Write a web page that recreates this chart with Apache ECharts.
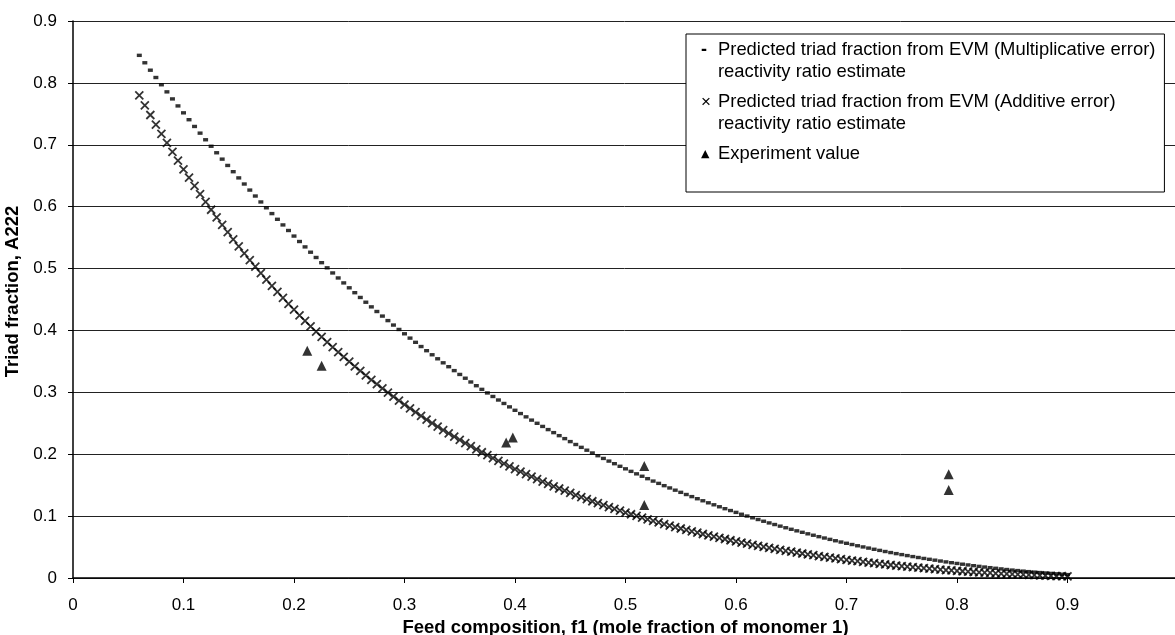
<!DOCTYPE html>
<html>
<head>
<meta charset="utf-8">
<script src="https://cdn.jsdelivr.net/npm/echarts@6.0.0/dist/echarts.min.js"></script>
<style>
  html, body { margin: 0; padding: 0; background: #fff; }
  #chart { width: 1175px; height: 635px; }
</style>
</head>
<body>
<div id="chart"></div>
<script>
// ---- data ----
const seriesNames = [
  'Predicted triad fraction from EVM (Multiplicative error)\nreactivity ratio estimate',
  'Predicted triad fraction from EVM (Additive error)\nreactivity ratio estimate',
  'Experiment value'
];
const legendGlyphs = ['-', '×', '▲'];

const xTickLabels = ['0', '0.1', '0.2', '0.3', '0.4', '0.5', '0.6', '0.7', '0.8', '0.9'];
const yTickLabels = ['0', '0.1', '0.2', '0.3', '0.4', '0.5', '0.6', '0.7', '0.8', '0.9'];

// feed composition f1 for the predicted curves
const feedF1 = [
  0.060,0.065,0.070,0.075,0.080,0.085,0.090,0.095,0.100,0.105,
  0.110,0.115,0.120,0.125,0.130,0.135,0.140,0.145,0.150,0.155,
  0.160,0.165,0.170,0.175,0.180,0.185,0.190,0.195,0.200,0.205,
  0.210,0.215,0.220,0.225,0.230,0.235,0.240,0.245,0.250,0.255,
  0.260,0.265,0.270,0.275,0.280,0.285,0.290,0.295,0.300,0.305,
  0.310,0.315,0.320,0.325,0.330,0.335,0.340,0.345,0.350,0.355,
  0.360,0.365,0.370,0.375,0.380,0.385,0.390,0.395,0.400,0.405,
  0.410,0.415,0.420,0.425,0.430,0.435,0.440,0.445,0.450,0.455,
  0.460,0.465,0.470,0.475,0.480,0.485,0.490,0.495,0.500,0.505,
  0.510,0.515,0.520,0.525,0.530,0.535,0.540,0.545,0.550,0.555,
  0.560,0.565,0.570,0.575,0.580,0.585,0.590,0.595,0.600,0.605,
  0.610,0.615,0.620,0.625,0.630,0.635,0.640,0.645,0.650,0.655,
  0.660,0.665,0.670,0.675,0.680,0.685,0.690,0.695,0.700,0.705,
  0.710,0.715,0.720,0.725,0.730,0.735,0.740,0.745,0.750,0.755,
  0.760,0.765,0.770,0.775,0.780,0.785,0.790,0.795,0.800,0.805,
  0.810,0.815,0.820,0.825,0.830,0.835,0.840,0.845,0.850,0.855,
  0.860,0.865,0.870,0.875,0.880,0.885,0.890,0.895,0.900
];

// Predicted A222, EVM (Multiplicative error)
const multA222 = [
  0.8445,0.8325,0.8205,0.8087,0.7970,0.7855,0.7741,0.7628,0.7516,0.7405,
  0.7296,0.7188,0.7081,0.6976,0.6871,0.6768,0.6666,0.6565,0.6465,0.6366,
  0.6268,0.6172,0.6076,0.5982,0.5888,0.5796,0.5705,0.5615,0.5525,0.5437,
  0.5350,0.5264,0.5179,0.5095,0.5012,0.4929,0.4848,0.4768,0.4689,0.4610,
  0.4533,0.4456,0.4381,0.4306,0.4232,0.4159,0.4087,0.4016,0.3946,0.3876,
  0.3808,0.3740,0.3673,0.3607,0.3542,0.3477,0.3414,0.3351,0.3289,0.3228,
  0.3167,0.3107,0.3048,0.2990,0.2933,0.2876,0.2820,0.2765,0.2710,0.2657,
  0.2604,0.2551,0.2500,0.2449,0.2398,0.2349,0.2300,0.2252,0.2204,0.2157,
  0.2111,0.2065,0.2020,0.1976,0.1932,0.1889,0.1847,0.1805,0.1764,0.1723,
  0.1683,0.1644,0.1605,0.1566,0.1529,0.1492,0.1455,0.1419,0.1384,0.1349,
  0.1315,0.1281,0.1248,0.1215,0.1183,0.1151,0.1120,0.1090,0.1060,0.1030,
  0.1001,0.0973,0.0945,0.0917,0.0890,0.0864,0.0838,0.0812,0.0787,0.0762,
  0.0738,0.0714,0.0691,0.0668,0.0646,0.0624,0.0602,0.0581,0.0561,0.0541,
  0.0521,0.0502,0.0483,0.0464,0.0446,0.0428,0.0411,0.0394,0.0378,0.0362,
  0.0346,0.0331,0.0316,0.0302,0.0288,0.0274,0.0260,0.0247,0.0235,0.0223,
  0.0211,0.0199,0.0188,0.0177,0.0167,0.0157,0.0147,0.0137,0.0128,0.0120,
  0.0111,0.0103,0.0095,0.0088,0.0081,0.0074,0.0067,0.0061,0.0055
];

// Predicted A222, EVM (Additive error)
const addA222 = [
  0.7798,0.7638,0.7481,0.7327,0.7177,0.7029,0.6885,0.6743,0.6604,0.6468,
  0.6335,0.6204,0.6076,0.5950,0.5827,0.5706,0.5588,0.5472,0.5358,0.5247,
  0.5137,0.5030,0.4925,0.4822,0.4721,0.4622,0.4525,0.4429,0.4336,0.4244,
  0.4154,0.4066,0.3980,0.3895,0.3812,0.3730,0.3650,0.3572,0.3495,0.3419,
  0.3345,0.3273,0.3202,0.3132,0.3063,0.2996,0.2930,0.2865,0.2802,0.2740,
  0.2679,0.2619,0.2560,0.2503,0.2446,0.2391,0.2337,0.2283,0.2231,0.2180,
  0.2130,0.2080,0.2032,0.1984,0.1938,0.1892,0.1848,0.1804,0.1761,0.1719,
  0.1677,0.1637,0.1597,0.1558,0.1520,0.1482,0.1446,0.1410,0.1374,0.1340,
  0.1306,0.1273,0.1240,0.1208,0.1177,0.1146,0.1116,0.1087,0.1058,0.1030,
  0.1002,0.0975,0.0948,0.0922,0.0897,0.0872,0.0847,0.0823,0.0800,0.0777,
  0.0755,0.0733,0.0711,0.0690,0.0669,0.0649,0.0630,0.0610,0.0591,0.0573,
  0.0555,0.0537,0.0520,0.0503,0.0487,0.0471,0.0455,0.0440,0.0425,0.0410,
  0.0396,0.0382,0.0368,0.0355,0.0342,0.0329,0.0317,0.0305,0.0293,0.0282,
  0.0271,0.0260,0.0249,0.0239,0.0229,0.0219,0.0210,0.0201,0.0192,0.0183,
  0.0175,0.0166,0.0158,0.0151,0.0143,0.0136,0.0129,0.0122,0.0116,0.0109,
  0.0103,0.0097,0.0092,0.0086,0.0081,0.0076,0.0071,0.0066,0.0061,0.0057,
  0.0053,0.0049,0.0045,0.0042,0.0038,0.0035,0.0032,0.0029,0.0026
];

// Experimental points
const expF1   = [0.212, 0.225, 0.392, 0.398, 0.517, 0.517, 0.7925, 0.7925];
const expA222 = [0.367, 0.343, 0.219, 0.227, 0.181, 0.118, 0.1675, 0.142];

const xAxisTitle = 'Feed composition, f1 (mole fraction of monomer 1)';
const yAxisTitle = 'Triad fraction, A222';

// ---- chart ----
const FONT = '"Liberation Sans", Arial, Helvetica, sans-serif';
const pair = (xs, ys) => xs.map((x, i) => [x, ys[i]]);

const glyphKeys = ['gd', 'gx', 'gt'];

const chart = echarts.init(document.getElementById('chart'), null, { renderer: 'canvas' });
chart.setOption({
  animation: false,
  backgroundColor: '#ffffff',
  grid: { left: 73, top: 21, width: 1105, height: 557, outerBoundsMode: 'none', containLabel: false },
  xAxis: {
    type: 'value', min: 0, max: 1, interval: 0.1,
    name: xAxisTitle, nameLocation: 'middle', nameGap: 36,
    nameTextStyle: { fontFamily: FONT, fontSize: 18.5, fontWeight: 'bold', color: '#000' },
    axisLine: { show: true, onZero: false, lineStyle: { color: '#000', width: 1.5 } },
    axisTick: { show: true, inside: false, length: 5, lineStyle: { color: '#000' } },
    axisLabel: {
      fontFamily: FONT, fontSize: 17, color: '#000', margin: 19,
      formatter: (v) => { const i = Math.round(v * 10); return i < xTickLabels.length ? xTickLabels[i] : ''; }
    },
    splitLine: { show: false }
  },
  yAxis: {
    type: 'value', min: 0, max: 0.9, interval: 0.1,
    name: yAxisTitle, nameLocation: 'middle', nameGap: 44, nameRotate: 90,
    nameTextStyle: { fontFamily: FONT, fontSize: 18.5, fontWeight: 'bold', color: '#000', padding: [0, 0, 0, 16] },
    axisLine: { show: true, lineStyle: { color: '#000', width: 1.5 } },
    axisTick: { show: true, inside: false, length: 5, lineStyle: { color: '#000' } },
    axisLabel: {
      fontFamily: FONT, fontSize: 17, color: '#000', margin: 16,
      formatter: (v) => yTickLabels[Math.round(v * 10)]
    },
    splitLine: { show: true, lineStyle: { color: '#222', width: 1 } }
  },
  legend: {
    orient: 'vertical', left: 686, top: 34,
    selectedMode: false,
    icon: 'none', itemWidth: 0, itemHeight: 10, itemGap: 8,
    padding: [5, 9, 27, 10],
    backgroundColor: '#fff', borderColor: '#000', borderWidth: 1, borderRadius: 0,
    data: seriesNames,
    formatter: (name) => {
      const idx = seriesNames.indexOf(name);
      const lines = name.split('\n');
      return lines.map((ln, j) => (j === 0 ? '{' + glyphKeys[idx] + '|' + legendGlyphs[idx] + '}' : '{gs| }') + '{t|' + ln + '}').join('\n');
    },
    textStyle: {
      fontFamily: FONT, fontSize: 18.4, color: '#000', lineHeight: 22,
      rich: {
        t:  { fontFamily: FONT, fontSize: 18.4, color: '#000', lineHeight: 22 },
        gd: { fontFamily: FONT, fontSize: 18, fontWeight: 'bold', color: '#000', width: 17, lineHeight: 22 },
        gx: { fontFamily: FONT, fontSize: 17, color: '#000', width: 17, lineHeight: 22 },
        gt: { fontFamily: '"DejaVu Sans", sans-serif', fontSize: 11, color: '#000', width: 17, lineHeight: 22 },
        gs: { fontFamily: FONT, fontSize: 18, width: 17, lineHeight: 22 }
      }
    }
  },
  series: [
    {
      name: seriesNames[0], type: 'scatter',
      data: pair(feedF1, multA222),
      symbol: 'rect', symbolSize: [5, 3.4],
      itemStyle: { color: '#000' },
      z: 3
    },
    {
      name: seriesNames[1], type: 'scatter',
      data: pair(feedF1, addA222),
      symbol: 'path://M0,0L10,10M10,0L0,10', symbolSize: 8,
      itemStyle: { color: '#000', borderColor: '#000', borderWidth: 1.8 },
      z: 4
    },
    {
      name: seriesNames[2], type: 'scatter',
      data: pair(expF1, expA222),
      symbol: 'triangle', symbolSize: [10, 10],
      itemStyle: { color: '#000' },
      z: 5
    }
  ]
});
</script>
</body>
</html>
